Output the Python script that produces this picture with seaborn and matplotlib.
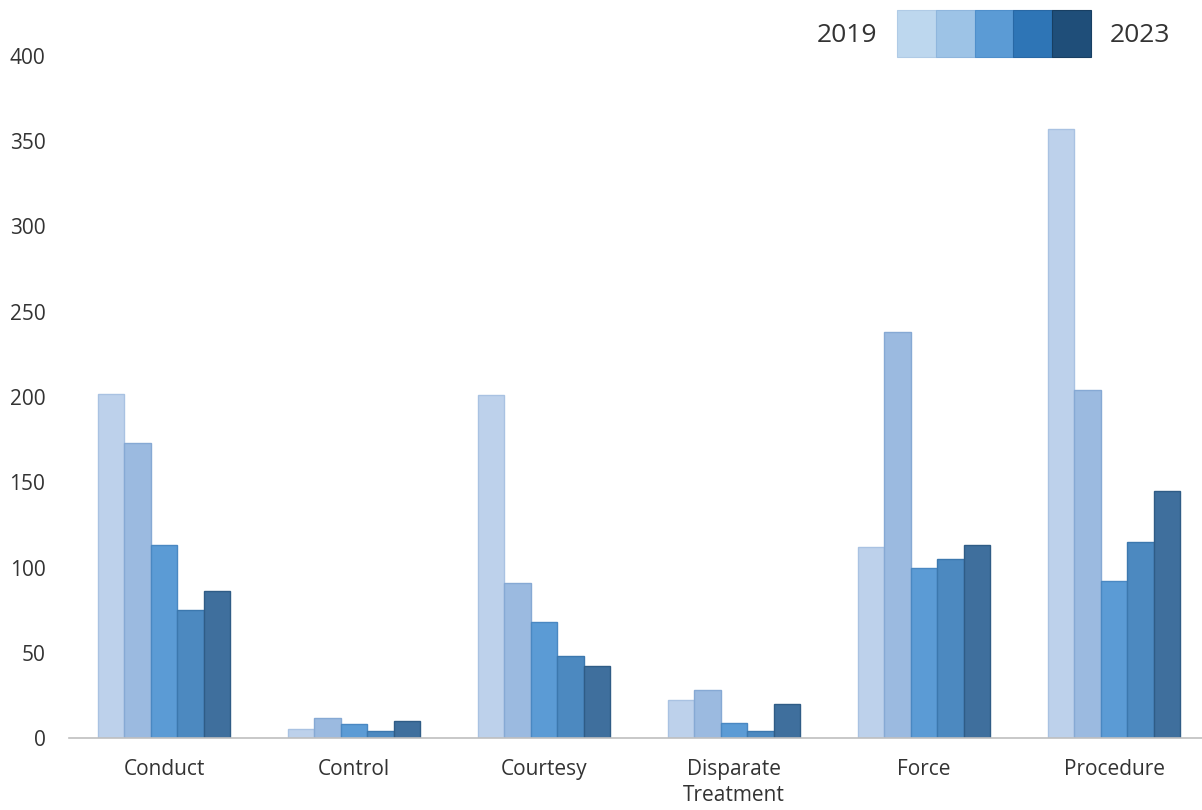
import matplotlib
matplotlib.use("Agg")
import matplotlib.pyplot as plt
from matplotlib.patches import Rectangle
import seaborn as sns
import pandas as pd

categories = ["Conduct", "Control", "Courtesy", "Disparate\nTreatment", "Force", "Procedure"]
years = ["2019", "2020", "2021", "2022", "2023"]
values = {
    "2019": [202, 5, 201, 22, 112, 357],
    "2020": [173, 12, 91, 28, 238, 204],
    "2021": [113, 8, 68, 9, 100, 92],
    "2022": [75, 4, 48, 4, 105, 115],
    "2023": [86, 10, 42, 20, 113, 145],
}
y_ticks = [0, 50, 100, 150, 200, 250, 300, 350, 400]

bar_colors = ["#BDD1EB", "#9BBAE0", "#5B9BD5", "#4C89C0", "#3F6F9D"]
edge_colors = ["#A9C2E2", "#86A9D4", "#4A88C2", "#3C78AE", "#2F5C86"]
legend_colors = ["#BDD7EE", "#9DC3E6", "#5B9BD5", "#2E75B6", "#1F4E79"]
legend_edges = ["#B0CBE6", "#8FB6DD", "#4F8FCB", "#2868A5", "#183F63"]

rows = []
for y in years:
    for c, v in zip(categories, values[y]):
        rows.append({"category": c, "year": y, "count": v})
df = pd.DataFrame(rows)

sns.set_theme(style="white")
plt.rcParams["font.family"] = ["Open Sans", "DejaVu Sans"]

fig = plt.figure(figsize=(12.02, 8.10), dpi=100)
ax = fig.add_axes([69 / 1202, 72 / 810, 1 - 69 / 1202, (738 - 56) / 810])

sns.barplot(
    data=df, x="category", y="count", hue="year", order=categories, hue_order=years,
    palette=dict(zip(years, bar_colors)), width=0.695, gap=0, ax=ax, legend=False,
    saturation=1, linewidth=1,
)
for cont, ec in zip(ax.containers, edge_colors):
    for bar in cont:
        bar.set_edgecolor(ec)

ax.set_ylim(0, 400)
ax.set_xlim(-0.5, 5.5 - 7 / 190)
ax.set_yticks(y_ticks)
ax.set_yticklabels([str(t) for t in y_ticks])
ax.set_xlabel("")
ax.set_ylabel("")
ax.grid(False)
for side in ["top", "right", "left"]:
    ax.spines[side].set_visible(False)
ax.spines["bottom"].set_color("#BFBFBF")
ax.spines["bottom"].set_linewidth(1.2)
ax.tick_params(axis="y", length=0, pad=17, labelsize=15, labelcolor="#333333")
ax.tick_params(axis="x", length=0, pad=15, labelsize=15, labelcolor="#333333")
for lbl in ax.get_xticklabels():
    lbl.set_linespacing(1.35)

# colour ramp legend for the years
lx0, ly0, bw, bh = 897, 10, 38.8, 47
for i, (col, ec) in enumerate(zip(legend_colors, legend_edges)):
    fig.patches.append(Rectangle(((lx0 + i * bw) / 1202, 1 - (ly0 + bh) / 810), bw / 1202, bh / 810,
                                 transform=fig.transFigure, facecolor=col,
                                 edgecolor=ec, linewidth=0.8, figure=fig))
fig.text(877 / 1202, 1 - 35 / 810, years[0], ha="right", va="center", fontsize=19, color="#333333")
fig.text(1110 / 1202, 1 - 35 / 810, years[-1], ha="left", va="center", fontsize=19, color="#333333")

fig.savefig("out.png", dpi=100, facecolor="white")
